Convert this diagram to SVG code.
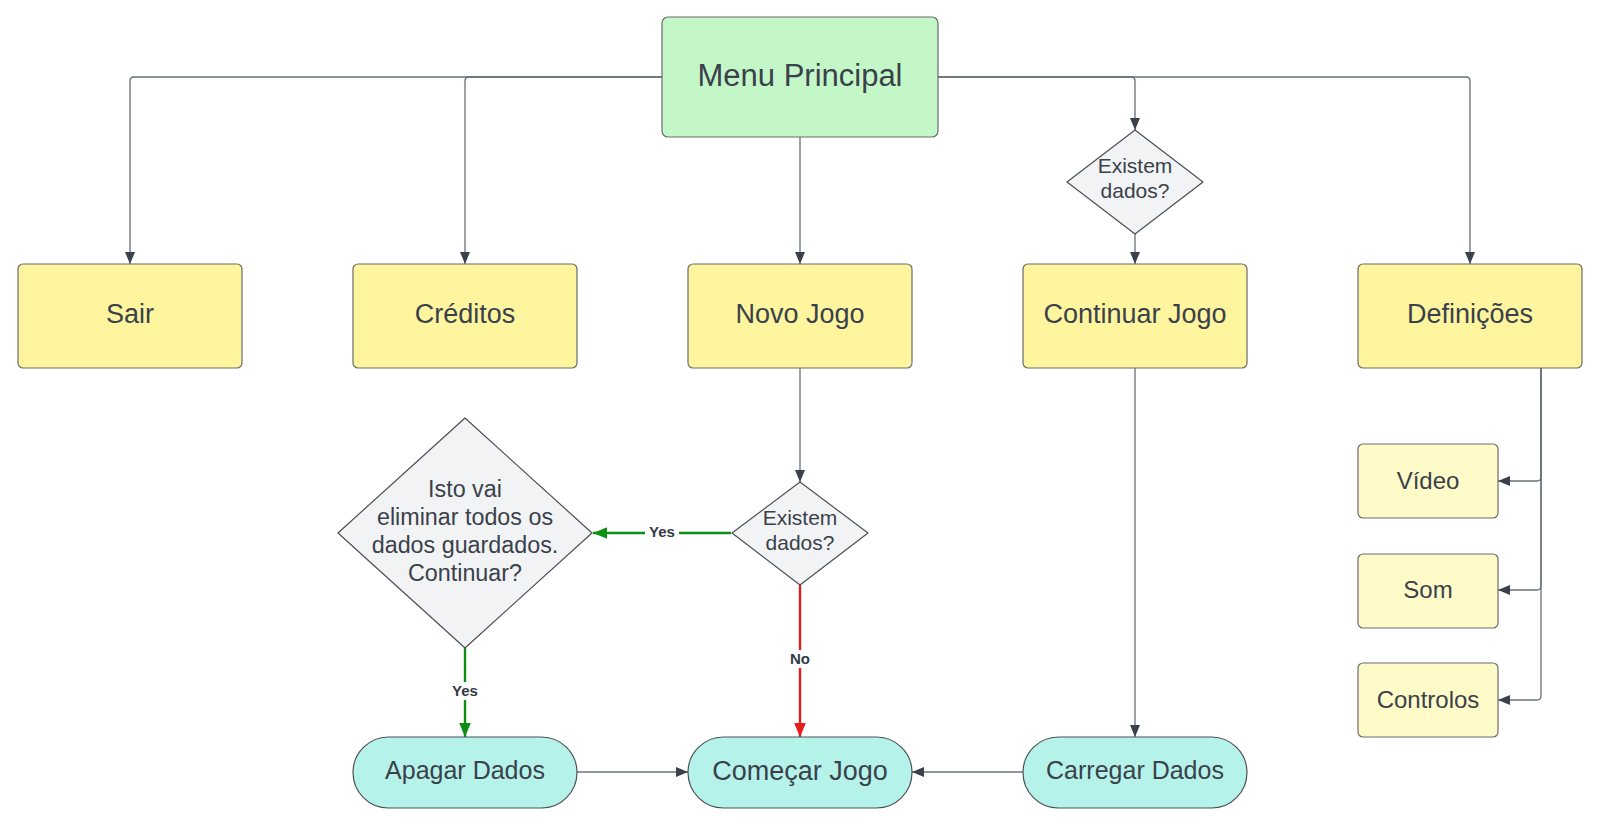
<svg xmlns="http://www.w3.org/2000/svg" width="1600" height="825" viewBox="0 0 1600 825">
<style>
.t{font-family:"Liberation Sans",Arial,sans-serif;fill:#3a414a;text-anchor:middle}
.box{fill:#fff59f;stroke:#6b6b6b;stroke-width:1.2}
.sub{fill:#fefbc8;stroke:#6b6b6b;stroke-width:1.2}
.dia{fill:#f2f3f5;stroke:#4b5058;stroke-width:1.2;stroke-linejoin:round}
.pill{fill:#b5f3ea;stroke:#4b5058;stroke-width:1.2}
.c{fill:none;stroke:#6a7079;stroke-width:1.3}
.g{fill:none;stroke:#0c8f12;stroke-width:2.4}
.r{fill:none;stroke:#e51c1c;stroke-width:2.4}
.lbl{font-family:"Liberation Sans",Arial,sans-serif;font-weight:bold;font-size:15px;fill:#333a45;text-anchor:middle}
</style>
<defs>
<marker id="a" viewBox="0 0 12 10" refX="12" refY="5" markerWidth="12" markerHeight="10" markerUnits="userSpaceOnUse" orient="auto"><path d="M0,0 L12,5 L0,10 z" fill="#3a414a"/></marker>
<marker id="ag" viewBox="0 0 12 10" refX="12" refY="5" markerWidth="14" markerHeight="12" markerUnits="userSpaceOnUse" orient="auto"><path d="M0,0 L12,5 L0,10 z" fill="#0c8f12"/></marker>
<marker id="ar" viewBox="0 0 12 10" refX="12" refY="5" markerWidth="14" markerHeight="12" markerUnits="userSpaceOnUse" orient="auto"><path d="M0,0 L12,5 L0,10 z" fill="#e51c1c"/></marker>
</defs>
<rect width="1600" height="825" fill="#ffffff"/>
<g id="connectors">
<path class="c" d="M662,77 H134 Q130,77 130,81 V264" marker-end="url(#a)"/>
<path class="c" d="M662,77 H469 Q465,77 465,81 V264" marker-end="url(#a)"/>
<path class="c" d="M800,137 V264" marker-end="url(#a)"/>
<path class="c" d="M938,77 H1131 Q1135,77 1135,81 V130" marker-end="url(#a)"/>
<path class="c" d="M938,77 H1466 Q1470,77 1470,81 V264" marker-end="url(#a)"/>
<path class="c" d="M1135,234 V264" marker-end="url(#a)"/>
<path class="c" d="M800,368 V482" marker-end="url(#a)"/>
<path class="g" d="M731,533 H593" marker-end="url(#ag)"/>
<path class="r" d="M800,585 V737" marker-end="url(#ar)"/>
<path class="g" d="M465,648 V737" marker-end="url(#ag)"/>
<path class="c" d="M577,772 H688" marker-end="url(#a)"/>
<path class="c" d="M1023,772 H912" marker-end="url(#a)"/>
<path class="c" d="M1135,368 V737" marker-end="url(#a)"/>
<path class="c" d="M1541,368 V477 Q1541,481 1537,481 H1498" marker-end="url(#a)"/>
<path class="c" d="M1541,368 V586 Q1541,590 1537,590 H1498" marker-end="url(#a)"/>
<path class="c" d="M1541,368 V696 Q1541,700 1537,700 H1498" marker-end="url(#a)"/>
<rect x="645" y="523" width="34" height="18" fill="#ffffff"/>
<text class="lbl" x="662" y="537">Yes</text>
<rect x="785" y="650" width="30" height="18" fill="#ffffff"/>
<text class="lbl" x="800" y="664">No</text>
<rect x="448" y="682" width="34" height="18" fill="#ffffff"/>
<text class="lbl" x="465" y="696">Yes</text>
</g>
<g id="menu-principal">
<rect x="662" y="17" width="276" height="120" rx="6" fill="#c3f7c8" stroke="#6b6b6b" stroke-width="1.2"/>
<text class="t" x="800" y="86" font-size="31">Menu Principal</text>
</g>
<g id="sair"><rect class="box" x="18" y="264" width="224" height="104" rx="5"/><text class="t" x="130" y="323" font-size="27">Sair</text></g>
<g id="creditos"><rect class="box" x="353" y="264" width="224" height="104" rx="5"/><text class="t" x="465" y="323" font-size="27">Créditos</text></g>
<g id="novo-jogo"><rect class="box" x="688" y="264" width="224" height="104" rx="5"/><text class="t" x="800" y="323" font-size="27">Novo Jogo</text></g>
<g id="continuar-jogo"><rect class="box" x="1023" y="264" width="224" height="104" rx="5"/><text class="t" x="1135" y="323" font-size="27">Continuar Jogo</text></g>
<g id="definicoes"><rect class="box" x="1358" y="264" width="224" height="104" rx="5"/><text class="t" x="1470" y="323" font-size="27">Definições</text></g>
<g id="existem-dados-1">
<polygon class="dia" points="1135,130 1203,182 1135,234 1067,182"/>
<text class="t" x="1135" y="173" font-size="21">Existem</text>
<text class="t" x="1135" y="198" font-size="21">dados?</text>
</g>
<g id="existem-dados-2">
<polygon class="dia" points="800,482 868,533 800,585 732,533"/>
<text class="t" x="800" y="525" font-size="21">Existem</text>
<text class="t" x="800" y="550" font-size="21">dados?</text>
</g>
<g id="confirmar">
<polygon class="dia" points="465,418 592,533 465,648 338,533"/>
<text class="t" x="465" y="497" font-size="23.3">Isto vai</text>
<text class="t" x="465" y="525" font-size="23.3">eliminar todos os</text>
<text class="t" x="465" y="553" font-size="23.3">dados guardados.</text>
<text class="t" x="465" y="581" font-size="23.3">Continuar?</text>
</g>
<g id="apagar-dados"><rect class="pill" x="353" y="737" width="224" height="71" rx="35.5"/><text class="t" x="465" y="779" font-size="25">Apagar Dados</text></g>
<g id="comecar-jogo"><rect class="pill" x="688" y="737" width="224" height="71" rx="35.5"/><text class="t" x="800" y="780" font-size="27">Começar Jogo</text></g>
<g id="carregar-dados"><rect class="pill" x="1023" y="737" width="224" height="71" rx="35.5"/><text class="t" x="1135" y="779" font-size="25">Carregar Dados</text></g>
<g id="video"><rect class="sub" x="1358" y="444" width="140" height="74" rx="5"/><text class="t" x="1428" y="489" font-size="24">Vídeo</text></g>
<g id="som"><rect class="sub" x="1358" y="554" width="140" height="74" rx="5"/><text class="t" x="1428" y="598" font-size="24">Som</text></g>
<g id="controlos"><rect class="sub" x="1358" y="663" width="140" height="74" rx="5"/><text class="t" x="1428" y="708" font-size="24">Controlos</text></g>
</svg>
